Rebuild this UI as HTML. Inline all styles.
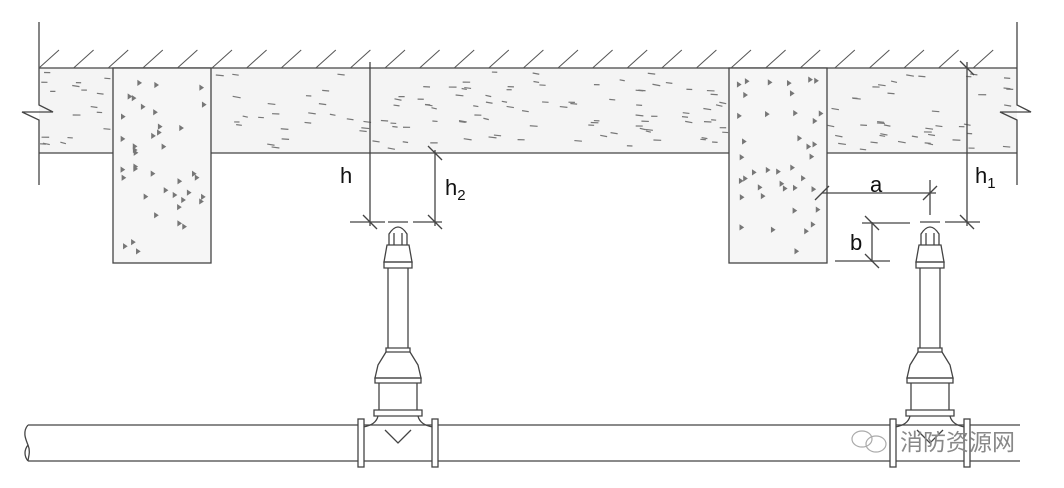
<!DOCTYPE html>
<html><head><meta charset="utf-8"><style>
html,body{margin:0;padding:0;background:#fff;}
svg{display:block;}
text{font-family:"Liberation Sans",Arial,sans-serif;fill:#111;}
</style></head><body>
<svg id="s" width="1064" height="488" viewBox="0 0 1064 488" xmlns="http://www.w3.org/2000/svg">
<g stroke="#444" stroke-width="1.3" fill="none">
<rect x="39" y="68" width="978" height="85" fill="#f4f4f4" stroke="none"/>
<line x1="39" y1="68" x2="1017" y2="68"/>
<line x1="39" y1="153" x2="729" y2="153"/>
<line x1="827" y1="153" x2="1017" y2="153"/>
<polyline points="39,22 39,105 53,112 22,112 39,120 39,185"/>
<polyline points="1017,22 1017,105 1031,112 1000,112 1017,120 1017,185"/>
<rect x="113" y="68" width="98" height="195" fill="#f6f6f6"/>
<rect x="729" y="68" width="98" height="195" fill="#f6f6f6"/>
<g id="hatch" stroke="#555" stroke-width="1"></g>
<g id="spk" stroke="#777" stroke-width="1.2"></g>
<line x1="370" y1="62" x2="370" y2="226"/>
<line x1="350" y1="222" x2="385" y2="222"/>
<line x1="413" y1="222" x2="442" y2="222"/>
<line x1="435" y1="150" x2="435" y2="226"/>
<line x1="363" y1="215" x2="377" y2="229"/>
<line x1="428" y1="215" x2="442" y2="229"/>
<line x1="428" y1="146" x2="442" y2="160"/>
<line x1="967" y1="62" x2="967" y2="226"/>
<line x1="945" y1="222" x2="980" y2="222"/>
<line x1="960" y1="61" x2="974" y2="75"/>
<line x1="960" y1="215" x2="974" y2="229"/>
<line x1="822" y1="193" x2="936" y2="193"/>
<line x1="930" y1="180" x2="930" y2="215"/>
<line x1="815" y1="200" x2="829" y2="186"/>
<line x1="923" y1="200" x2="937" y2="186"/>
<line x1="872" y1="222" x2="872" y2="262"/>
<line x1="862" y1="223" x2="910" y2="223"/>
<line x1="835" y1="261" x2="890" y2="261"/>
<line x1="865" y1="216" x2="879" y2="230"/>
<line x1="865" y1="254" x2="879" y2="268"/>
<line x1="28" y1="425" x2="1020" y2="425"/>
<line x1="28" y1="461" x2="1020" y2="461"/>
<path d="M28,425 C22,432 26,440 28,445 C31,452 28,458 28,461 M28,445 C24,450 24,456 28,461"/>
<g id="sp1" transform="translate(398,0)"></g>
<g id="sp2" transform="translate(930,0)"></g>
</g>
<text x="340" y="183" font-size="22">h</text>
<text x="445" y="195" font-size="22">h<tspan font-size="15" dy="5">2</tspan></text>
<text x="870" y="192" font-size="22">a</text>
<text x="850" y="250" font-size="22">b</text>
<text x="975" y="183" font-size="22">h<tspan font-size="15" dy="5">1</tspan></text>
<g fill="none" stroke="#aaa" stroke-width="1.2"><ellipse cx="862" cy="439" rx="10" ry="8"/><ellipse cx="876" cy="444" rx="10" ry="8"/></g>
<text x="900" y="450" font-size="23" style="fill:#888;font-family:'Liberation Sans','Noto Sans CJK SC',sans-serif">消防资源网</text>
</svg>
<script>
var NS="http://www.w3.org/2000/svg";
function el(p,t,a){var e=document.createElementNS(NS,t);for(var k in a)e.setAttribute(k,a[k]);p.appendChild(e);return e;}
var h=document.getElementById('hatch');
for(var x=39;x<1005;x+=34.6){el(h,'line',{x1:x,y1:68,x2:x+20,y2:50});}
var seed=7;function r(){seed=(seed*16807)%2147483647;return seed/2147483647;}
var s=document.getElementById('spk');
for(var i=0;i<220;i++){var x=40+r()*970,y=72+r()*78;
 if((x>108&&x<211)||(x>724&&x<827))continue;
 el(s,'line',{x1:x,y1:y,x2:x+5+r()*3,y2:y+r()*1.5});}
for(var b=0;b<2;b++){var bx=b?729:113;for(var i=0;i<40;i++){var x=bx+8+r()*84,y=75+r()*180;
 el(s,'path',{d:'M'+x+','+y+' l3,2 l-3,2 z',fill:'#777'});}}
function sp(g){
 var d=[
 'M-9,245 L-9,234 Q0,220 9,234 L9,245','M-4,233 L-4,245 M4,233 L4,245','M-10,222 L10,222',
 'M-11,245 L11,245 L14,262 L-14,262 Z','M-14,262 L14,262 L14,268 L-14,268 Z',
 'M-10,268 L-10,348 M10,268 L10,348',
 'M-12,348 L12,348 L12,352 L-12,352 Z','M-12,352 L-20,365 L-23,378 L23,378 L20,365 L12,352',
 'M-23,378 L23,378 L23,383 L-23,383 Z','M-19,383 L-19,410 M19,383 L19,410',
 'M-24,410 L24,410 L24,416 L-24,416 Z',
 'M-20,416 Q-22,425 -35,427 M20,416 Q22,425 35,427',
 'M-13,430 L0,443 L13,430'];
 d.forEach(function(p){el(g,'path',{d:p});});
 el(g,'rect',{x:-40,y:419,width:6,height:48,fill:'#fff'});
 el(g,'rect',{x:34,y:419,width:6,height:48,fill:'#fff'});
}
sp(document.getElementById('sp1'));sp(document.getElementById('sp2'));
</script>
</body></html>
